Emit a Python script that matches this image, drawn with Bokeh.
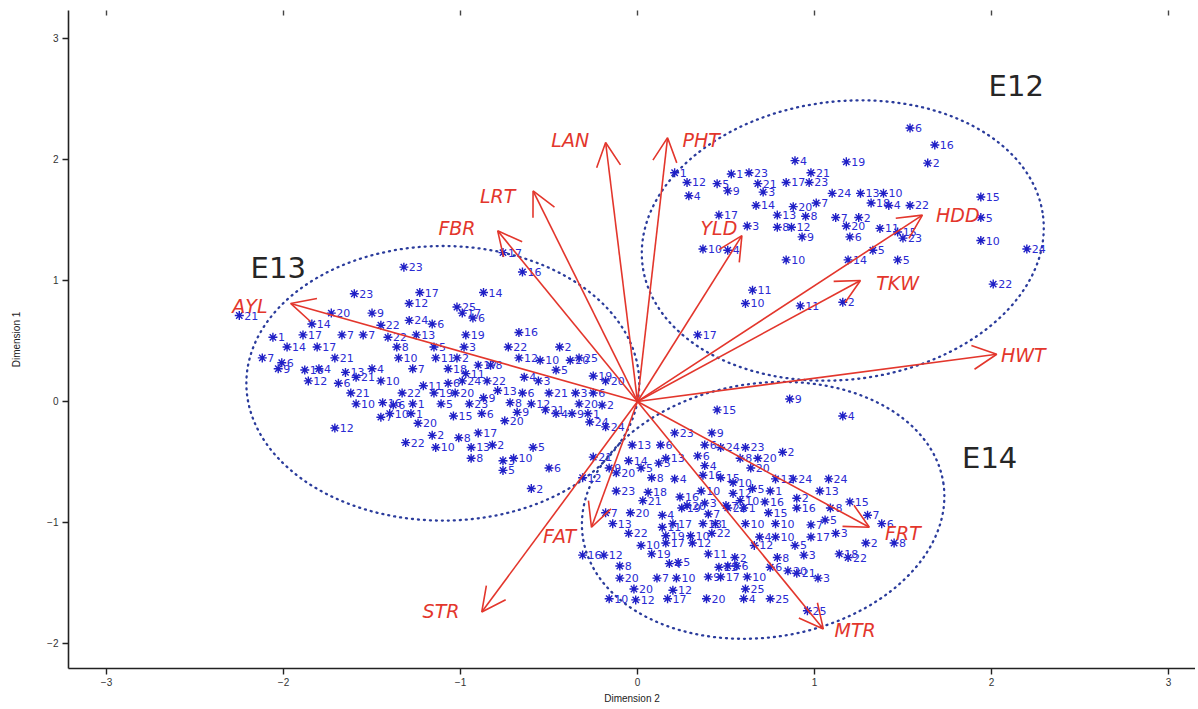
from bokeh.plotting import figure
from bokeh.models import ColumnDataSource, Arrow, OpenHead, Range1d, FixedTicker, LinearAxis
from bokeh.core.properties import value
from bokeh.embed import file_html
from bokeh.resources import INLINE

# ---------------- data ----------------
x_ticks = [-3, -2, -1, 0, 1, 2, 3]
x_tick_labels = ["\u22123", "\u22122", "\u22121", "0", "1", "2", "3"]
y_ticks = [-2, -1, 0, 1, 2, 3]
y_tick_labels = ["\u22122", "\u22121", "0", "1", "2", "3"]

# environment E12 observations
e12_x = [0.21, 0.28, 0.29, 0.45, 0.51, 0.53, 0.63, 0.68, 0.84, 0.97,
         0.71, 0.98, 0.89, 1.18, 0.67, 0.88, 1.01, 1.10, 1.26, 1.39,
         1.54, 0.79, 1.12, 1.25, 0.46, 0.62, 0.79, 0.87, 1.18, 1.47,
         1.50, 0.93, 1.20, 1.33, 1.47, 0.37, 0.51, 0.84, 1.19, 0.65,
         0.61, 0.92, 1.16, 0.34, 1.54, 1.68, 1.64, 1.94, 1.94, 1.94,
         2.20, 2.01, 1.32, 1.42, 0.95, 1.37]
e12_y = [1.89, 1.81, 1.70, 1.80, 1.74, 1.88, 1.89, 1.80, 1.81, 1.81,
         1.73, 1.89, 1.99, 1.98, 1.62, 1.61, 1.64, 1.72, 1.72, 1.72,
         1.62, 1.54, 1.52, 1.52, 1.54, 1.45, 1.44, 1.44, 1.45, 1.40,
         1.35, 1.36, 1.36, 1.25, 1.17, 1.26, 1.25, 1.17, 1.17, 0.92,
         0.81, 0.79, 0.82, 0.55, 2.26, 2.12, 1.97, 1.69, 1.52, 1.33,
         1.26, 0.97, 1.64, 1.62, 1.53, 1.43]
e12_lab = ["1", "12", "4", "5", "9", "1", "23", "21", "17", "23",
           "3", "21", "4", "19", "14", "20", "7", "24", "13", "10",
           "22", "13", "7", "2", "17", "3", "8", "12", "20", "15",
           "23", "9", "6", "5", "5", "10", "4", "10", "14", "11",
           "10", "11", "2", "17", "6", "16", "2", "15", "5", "10",
           "24", "22", "18", "4", "8", "11"]

# environment E13 observations
e13_x = [-1.32, -1.60, -1.23, -0.87, -1.29, -1.02, -0.99, -0.93, -1.73, -1.50,
         -1.84, -1.45, -1.29, -1.16, -2.06, -1.89, -1.67, -1.55, -1.41, -1.25,
         -0.97, -0.67, -0.73, -0.44, -1.98, -1.81, -0.98, -1.36, -1.15, -2.12,
         -2.01, -1.71, -1.35, -1.14, -1.02, -0.90, -0.67, -0.55, -0.38, -2.03,
         -1.88, -1.80, -1.65, -1.50, -1.27, -1.07, -0.97, -0.83, -0.56, -0.46,
         -0.25, -1.86, -1.69, -1.59, -1.45, -1.21, -1.07, -0.99, -0.85, -0.64,
         -1.62, -1.33, -1.15, -1.03, -0.87, -0.79, -0.65, -0.50, -0.35, -0.25,
         -1.59, -1.44, -1.38, -1.27, -1.11, -0.95, -0.72, -0.60, -0.33, -0.20,
         -1.45, -1.40, -1.28, -1.04, -0.88, -0.75, -0.68, -0.52, -0.46, -0.37,
         -0.28, -1.24, -0.90, -1.16, -1.01, -1.71, -1.31, -1.14, -0.94, -0.82,
         -0.59, -0.94, -0.76, -0.70, -0.76, -0.50, -0.33, -0.18, -0.27, -0.60,
         -0.65, -0.76, -2.25]
e13_y = [1.11, 0.89, 0.90, 0.90, 0.81, 0.78, 0.73, 0.69, 0.73, 0.73,
         0.64, 0.63, 0.67, 0.64, 0.53, 0.55, 0.55, 0.55, 0.53, 0.55,
         0.55, 0.57, 0.45, 0.45, 0.45, 0.45, 0.45, 0.45, 0.45, 0.36,
         0.32, 0.36, 0.36, 0.36, 0.36, 0.30, 0.36, 0.34, 0.34, 0.27,
         0.26, 0.27, 0.24, 0.27, 0.27, 0.27, 0.23, 0.30, 0.17, 0.26,
         0.21, 0.17, 0.15, 0.20, 0.17, 0.13, 0.15, 0.17, 0.17, 0.20,
         0.07, 0.07, 0.07, 0.07, 0.03, 0.09, 0.07, 0.07, 0.07, 0.07,
         -0.02, -0.01, -0.03, -0.02, -0.02, -0.02, -0.01, -0.02, -0.02, -0.03,
         -0.13, -0.10, -0.10, -0.12, -0.10, -0.16, -0.09, -0.07, -0.10, -0.10,
         -0.10, -0.18, -0.26, -0.28, -0.30, -0.22, -0.34, -0.38, -0.38, -0.36,
         -0.38, -0.47, -0.49, -0.47, -0.57, -0.55, 0.36, 0.17, -0.17, -0.72,
         1.07, 1.23, 0.71]
e13_lab = ["23", "23", "17", "14", "12", "25", "17", "6", "20", "9",
           "14", "22", "24", "6", "1", "17", "7", "7", "22", "13",
           "19", "16", "22", "2", "14", "17", "3", "8", "5", "7",
           "6", "21", "10", "11", "2", "17", "12", "10", "20", "9",
           "16", "4", "13", "4", "7", "18", "11", "8", "3", "5",
           "19", "12", "6", "21", "10", "11", "6", "24", "22", "4",
           "21", "22", "19", "20", "9", "13", "6", "21", "3", "6",
           "10", "16", "6", "1", "5", "23", "8", "12", "20", "2",
           "7", "10", "1", "15", "6", "20", "9", "21", "4", "9",
           "1", "20", "17", "2", "8", "12", "22", "10", "13", "2",
           "5", "8", "3", "10", "5", "6", "25", "20", "24", "2",
           "16", "17", "21"]

# environment E14 observations
e14_x = [0.86, 1.16, 0.45, 0.21, 0.42, -0.03, 0.13, 0.38, 0.47, 0.61,
         0.82, -0.25, -0.05, 0.12, 0.16, 0.34, 0.58, 0.68, 0.02, 0.38,
         0.64, 0.08, 0.21, 0.37, 0.47, 0.54, 0.78, 0.88, 1.08, -0.12,
         0.06, 0.24, 0.36, 0.54, 0.65, 0.75, 1.03, 0.03, 0.28, 0.38,
         0.50, 0.58, 0.72, 0.90, 1.09, 1.20, -0.18, -0.04, 0.14, 0.25,
         0.40, 0.51, 0.60, 0.74, 0.90, 1.30, -0.14, 0.14, 0.20, 0.37,
         0.44, 0.61, 0.78, 0.98, 1.06, 1.38, -0.05, 0.16, 0.30, 0.42,
         0.69, 0.78, 0.98, 1.12, 0.02, 0.16, 0.31, 0.66, 0.89, 1.19,
         1.29, 1.45, -0.31, -0.19, 0.08, 0.23, 0.40, 0.55, 0.79, 0.94,
         1.14, -0.10, 0.18, 0.46, 0.51, 0.56, 0.75, 0.85, -0.10, 0.11,
         0.22, 0.40, 0.47, 0.62, 0.90, 1.02, -0.02, 0.20, 0.61, -0.16,
         -0.01, 0.17, 0.39, 0.60, 0.75, 0.96, -0.18, -0.16, -0.31, -0.12]
e14_y = [0.02, -0.12, -0.07, -0.26, -0.26, -0.36, -0.36, -0.36, -0.38, -0.38,
         -0.42, -0.46, -0.49, -0.51, -0.47, -0.45, -0.47, -0.47, -0.55, -0.53,
         -0.55, -0.63, -0.64, -0.61, -0.63, -0.67, -0.64, -0.64, -0.64, -0.74,
         -0.75, -0.79, -0.74, -0.76, -0.72, -0.74, -0.74, -0.82, -0.86, -0.84,
         -0.86, -0.82, -0.83, -0.80, -0.88, -0.83, -0.92, -0.92, -0.94, -0.88,
         -0.93, -0.88, -0.88, -0.92, -0.88, -0.94, -1.01, -1.04, -1.01, -1.01,
         -1.01, -1.01, -1.01, -1.02, -0.98, -1.01, -1.09, -1.11, -1.11, -1.09,
         -1.12, -1.12, -1.12, -1.09, -1.19, -1.17, -1.17, -1.19, -1.19, -1.29,
         -1.17, -1.17, -1.27, -1.27, -1.26, -1.33, -1.26, -1.29, -1.29, -1.27,
         -1.26, -1.36, -1.34, -1.37, -1.36, -1.36, -1.37, -1.40, -1.46, -1.46,
         -1.46, -1.45, -1.45, -1.45, -1.42, -1.46, -1.55, -1.56, -1.55, -1.63,
         -1.64, -1.63, -1.63, -1.63, -1.63, -1.73, -0.21, -0.55, -0.63, -0.59]
e14_lab = ["9", "4", "15", "23", "9", "13", "6", "6", "24", "23",
           "2", "21", "14", "5", "13", "6", "8", "20", "5", "4",
           "20", "8", "4", "16", "15", "10", "12", "24", "24", "23",
           "18", "16", "10", "12", "5", "1", "13", "21", "20", "3",
           "7", "10", "16", "2", "8", "15", "7", "20", "4", "19",
           "7", "22", "1", "15", "16", "7", "13", "11", "17", "13",
           "1", "10", "10", "7", "5", "6", "22", "19", "10", "22",
           "4", "10", "17", "3", "10", "17", "12", "12", "5", "22",
           "2", "8", "16", "12", "19", "5", "11", "2", "8", "3",
           "18", "8", "4", "25", "5", "6", "6", "20", "20", "7",
           "10", "9", "17", "10", "21", "3", "20", "12", "25", "10",
           "12", "17", "20", "4", "25", "25", "24", "9", "12", "20"]

# trait vectors
var_names = ["AYL", "FBR", "LRT", "LAN", "PHT", "YLD", "HDD",
             "TKW", "HWT", "FRT", "MTR", "FAT", "STR"]
var_x = [-1.96, -0.79, -0.59, -0.18, 0.17, 0.59, 1.61, 1.26, 2.03, 1.31, 1.05, -0.26, -0.88]
var_y = [0.81, 1.41, 1.74, 2.14, 2.18, 1.37, 1.54, 1.00, 0.39, -1.04, -1.88, -1.04, -1.74]
varlab_x = [-2.19, -1.02, -0.79, -0.38, 0.36, 0.46, 1.81, 1.47, 2.18, 1.50, 1.23, -0.44, -1.11]
varlab_y = [0.79, 1.43, 1.70, 2.16, 2.16, 1.43, 1.54, 0.98, 0.38, -1.09, -1.89, -1.11, -1.73]

# environment ellipses
env_names = ["E12", "E13", "E14"]
ell_x = [1.16, -1.10, 0.71]
ell_y = [1.33, 0.15, -0.90]
ell_w = [2.28, 2.22, 2.06]
ell_h = [2.30, 2.27, 2.10]
ell_angle = [0.12, 0.0, 0.15]
env_lab_x = [2.14, -2.03, 1.99]
env_lab_y = [2.61, 1.10, -0.47]

# ---------------- figure ----------------
RED = "#e3362c"
BLUE_PT = "#1f1fc6"
BLUE_TXT = "#2a2ad2"

p = figure(width=1195, height=706, output_backend="svg", toolbar_location=None,
           x_range=Range1d(-3.215, 3.153), y_range=Range1d(-2.207, 3.231),
           min_border_left=68, min_border_right=0, min_border_top=10,
           min_border_bottom=38)
p.outline_line_color = None
p.grid.visible = False
p.background_fill_color = "white"
p.border_fill_color = "white"

# faint top tick marks (frame top edge of the original box)
top_ax = LinearAxis(ticker=FixedTicker(ticks=x_ticks), axis_line_alpha=0,
                    major_tick_in=5, major_tick_out=0, minor_tick_in=0, minor_tick_out=0,
                    major_tick_line_color="#444444", major_tick_line_width=1.4,
                    major_label_text_font_size="0px", major_label_standoff=0)
p.add_layout(top_ax, "above")

p.xaxis.ticker = FixedTicker(ticks=x_ticks)
p.yaxis.ticker = FixedTicker(ticks=y_ticks)
p.xaxis[0].major_label_overrides = {t: l for t, l in zip(x_ticks, x_tick_labels)}
p.yaxis.major_label_overrides = {t: l for t, l in zip(y_ticks, y_tick_labels)}
p.below[0].axis_label = "Dimension 2"
p.yaxis.axis_label = "Dimension 1"
for ax in (p.below[0], p.left[0]):
    ax.axis_line_width = 1.6
    ax.axis_line_color = "#222222"
    ax.major_tick_line_width = 1.4
    ax.major_tick_line_color = "#222222"
    ax.major_tick_out = 6
    ax.major_tick_in = 0
    ax.minor_tick_out = 0
    ax.minor_tick_in = 0
    ax.major_label_text_font_size = "10px"
    ax.major_label_text_color = "#333333"
    ax.major_label_text_font = "Liberation Sans"
    ax.axis_label_text_font_size = "10px"
    ax.axis_label_text_font_style = "normal"
    ax.axis_label_text_color = "#222222"
    ax.axis_label_text_font = "Liberation Sans"
p.below[0].major_label_standoff = 3
p.below[0].axis_label_standoff = 4
p.left[0].major_label_standoff = 4
p.left[0].axis_label_standoff = 22

# ellipses
ell_src = ColumnDataSource(dict(x=ell_x, y=ell_y, w=ell_w, h=ell_h, a=ell_angle))
p.ellipse(x="x", y="y", width="w", height="h", angle="a", source=ell_src,
          fill_color=None, line_color="#2b3c9c", line_width=2.3,
          line_dash="1 5", line_cap="round")

# observations
for xs, ys, labs in ((e12_x, e12_y, e12_lab), (e13_x, e13_y, e13_lab), (e14_x, e14_y, e14_lab)):
    n = min(len(xs), len(ys), len(labs))
    src = ColumnDataSource(dict(x=xs[:n], y=ys[:n], t=labs[:n]))
    p.scatter(x="x", y="y", source=src, marker="asterisk", size=9,
              line_color=BLUE_PT, line_width=1.4)
    p.text(x="x", y="y", text="t", source=src, x_offset=5,
           text_align="left", text_baseline="middle", text_font_size="11px",
           text_color=BLUE_TXT, text_font=value("DejaVu Sans"))

# trait arrows
nv = len(var_x)
arr_src = ColumnDataSource(dict(x0=[0.0] * nv, y0=[0.0] * nv, x1=var_x, y1=var_y))
p.add_layout(Arrow(end=OpenHead(size=24, line_color=RED, line_width=1.6),
                   x_start="x0", y_start="y0", x_end="x1", y_end="y1",
                   source=arr_src, line_color=RED, line_width=1.6))
p.text(x=varlab_x, y=varlab_y, text=var_names, text_align="center",
       text_baseline="middle", text_font_size="19px", text_font_style="italic",
       text_color=RED, text_font=value("DejaVu Sans"))

# environment labels
p.text(x=env_lab_x, y=env_lab_y, text=env_names, text_align="center",
       text_baseline="middle", text_font_size="29px", text_color="#262626",
       text_font=value("DejaVu Sans"))

open("out.html", "w").write(file_html(p, INLINE))
